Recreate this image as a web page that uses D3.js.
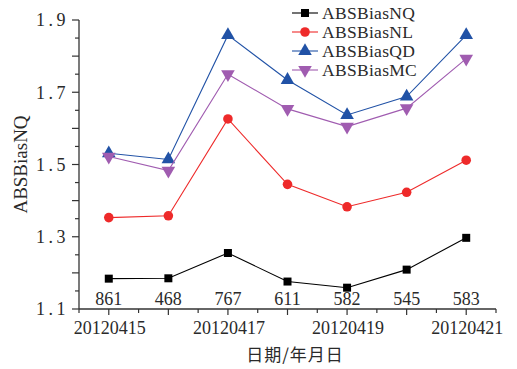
<!DOCTYPE html>
<html>
<head>
<meta charset="utf-8">
<script src="https://cdn.jsdelivr.net/npm/d3@7"></script>
<style>
  html, body { margin: 0; padding: 0; background: #fff; }
</style>
</head>
<body>
<svg id="chart" width="517" height="369"></svg>
<script>
// Dates on the x axis, labelled every other position
const dates = ["20120415", "20120416", "20120417", "20120418", "20120419", "20120420", "20120421"];
// Sample counts printed above each date
const counts = ["861", "468", "767", "611", "582", "545", "583"];

const absBiasNQ = [1.184, 1.185, 1.255, 1.176, 1.159, 1.209, 1.297];
const absBiasNL = [1.353, 1.358, 1.626, 1.445, 1.383, 1.423, 1.512];
const absBiasQD = [1.531, 1.514, 1.858, 1.734, 1.637, 1.688, 1.858];
const absBiasMC = [1.522, 1.483, 1.750, 1.654, 1.605, 1.656, 1.793];

const yTicks = [1.1, 1.3, 1.5, 1.7, 1.9];

const SERIF = '"Liberation Serif", "Times New Roman", serif';
const TEXT = "#2a2a2a";

const series = [
  { name: "ABSBiasNQ", values: absBiasNQ, color: "#000000", symbol: d3.symbolSquare, size: 64, rot: 0 },
  { name: "ABSBiasNL", values: absBiasNL, color: "#ee2a2a", symbol: d3.symbolCircle, size: 72, rot: 0 },
  { name: "ABSBiasQD", values: absBiasQD, color: "#2152a6", symbol: d3.symbolTriangle, size: 80, rot: 0 },
  { name: "ABSBiasMC", values: absBiasMC, color: "#a05cb0", symbol: d3.symbolTriangle, size: 80, rot: 180 }
];

const svg = d3.select("#chart");
const margin = { left: 79, top: 20, right: 21, bottom: 60 };
const W = 517, H = 369;

const x = d3.scaleLinear().domain([-0.5, dates.length - 0.5]).range([margin.left, W - margin.right]);
const y = d3.scaleLinear().domain([1.1, 1.9]).range([H - margin.bottom, margin.top]);

const axisColor = "#333";

function label(sel) {
  return sel.attr("font-family", SERIF).attr("fill", TEXT);
}

// Y axis: labelled ticks every 0.2, minor ticks every 0.05
const yAxis = svg.append("g").attr("transform", `translate(${margin.left},0)`);
yAxis.append("line").attr("x1", 0).attr("x2", 0).attr("y1", y(1.9)).attr("y2", y(1.1))
  .attr("stroke", axisColor).attr("stroke-width", 1.3);
const minor = d3.range(1.1, 1.9001, 0.05);
yAxis.selectAll("line.minor").data(minor).join("line").attr("class", "minor")
  .attr("x1", d => (Math.round(d * 100) % 10 === 0 ? -7 : -4)).attr("x2", 0)
  .attr("y1", d => y(d)).attr("y2", d => y(d))
  .attr("stroke", axisColor).attr("stroke-width", 1.2);
yAxis.selectAll("text").data(yTicks).join("text").call(label)
  .attr("x", -10).attr("y", d => y(d)).attr("dy", "0.35em")
  .attr("text-anchor", "end").attr("font-size", 18)
  .attr("letter-spacing", 3.5)
  .text(d => d.toFixed(1));

// X axis with ticks at each date and half-way between
const xAxis = svg.append("g").attr("transform", `translate(0,${y(1.1)})`);
xAxis.append("line").attr("x1", x(-0.5)).attr("x2", x(dates.length - 0.5)).attr("y1", 0).attr("y2", 0)
  .attr("stroke", axisColor).attr("stroke-width", 1.3);
const xt = d3.range(-0.5, dates.length - 0.49, 0.5);
xAxis.selectAll("line.tick").data(xt).join("line").attr("class", "tick")
  .attr("x1", d => x(d)).attr("x2", d => x(d)).attr("y1", 0)
  .attr("y2", d => (Number.isInteger(d) ? 6 : 4))
  .attr("stroke", axisColor).attr("stroke-width", 1.2);
xAxis.selectAll("text.date").data(dates.map((d, i) => ({ d, i })).filter(o => o.i % 2 === 0))
  .join("text").attr("class", "date").call(label)
  .attr("x", o => x(o.i) + 1).attr("y", 25).attr("text-anchor", "middle").attr("font-size", 18)
  .text(o => o.d);

// Counts above the x axis
svg.selectAll("text.count").data(counts).join("text").attr("class", "count").call(label)
  .attr("x", (d, i) => x(i)).attr("y", y(1.1) - 4).attr("text-anchor", "middle").attr("font-size", 18)
  .text(d => d);

// Axis titles
svg.append("text").call(label)
  .attr("transform", `translate(27,${(y(1.1) + y(1.9)) / 2}) rotate(-90)`)
  .attr("text-anchor", "middle").attr("font-size", 19).text("ABSBiasNQ");
svg.append("text").attr("x", 295).attr("y", 361).attr("text-anchor", "middle")
  .attr("font-size", 17).attr("letter-spacing", 1).attr("fill", TEXT)
  .attr("font-family", '"Noto Sans CJK SC", sans-serif')
  .text("日期/年月日");

// Series lines and markers
const line = d3.line().x((d, i) => x(i)).y(d => y(d));
series.forEach(s => {
  svg.append("path").datum(s.values).attr("d", line)
    .attr("fill", "none").attr("stroke", s.color).attr("stroke-width", 1.1);
  svg.selectAll(null).data(s.values).join("path")
    .attr("d", d3.symbol().type(s.symbol).size(s.size))
    .attr("transform", (d, i) => `translate(${x(i)},${y(d)}) rotate(${s.rot})`)
    .attr("fill", s.color);
});

// Legend
const legend = svg.append("g").attr("transform", "translate(292,13)");
series.forEach((s, i) => {
  const g = legend.append("g").attr("transform", `translate(0,${i * 19})`);
  g.append("line").attr("x1", 0).attr("x2", 26).attr("y1", 0).attr("y2", 0)
    .attr("stroke", s.color).attr("stroke-width", 1.1);
  g.append("path").attr("d", d3.symbol().type(s.symbol).size(s.size)())
    .attr("transform", `translate(13,0) rotate(${s.rot})`).attr("fill", s.color);
  g.append("text").call(label).attr("x", 30).attr("y", 0).attr("dy", "0.35em")
    .attr("font-size", 17.5).attr("letter-spacing", 0.3).text(s.name);
});
</script>
</body>
</html>
